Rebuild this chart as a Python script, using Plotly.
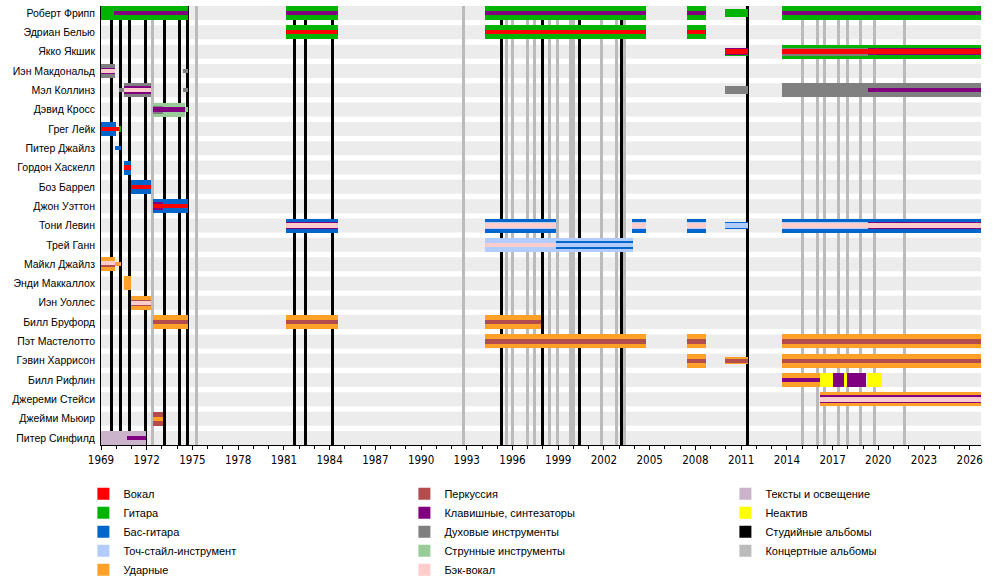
import plotly.graph_objects as go

NOW = 2026.74  # right end of the timeline

members = ["Роберт Фрипп", "Эдриан Белью", "Якко Якшик", "Иэн Макдональд", "Мэл Коллинз",
           "Дэвид Кросс", "Грег Лейк", "Питер Джайлз", "Гордон Хаскелл", "Боз Баррел",
           "Джон Уэттон", "Тони Левин", "Трей Ганн", "Майкл Джайлз", "Энди Маккаллох",
           "Иэн Уоллес", "Билл Бруфорд", "Пэт Мастелотто", "Гэвин Харрисон", "Билл Рифлин",
           "Джереми Стейси", "Джейми Мьюир", "Питер Синфилд"]

role_names = {
    "vocals": "Вокал", "guitar": "Гитара", "bass": "Бас-гитара",
    "stick": "Точ-стайл-инструмент", "drums": "Ударные", "perc": "Перкуссия",
    "keys": "Клавишные, синтезаторы", "wind": "Духовые инструменты",
    "strings": "Струнные инструменты", "bvocals": "Бэк-вокал",
    "lyrics": "Тексты и освещение", "inactive": "Неактив",
    "studio": "Студийные альбомы", "live": "Концертные альбомы",
}

# (member, role, from, till) - main bars
full_spans = [
    ("Роберт Фрипп", "guitar", 1969.0, 1974.74), ("Роберт Фрипп", "guitar", 1981.16, 1984.57),
    ("Роберт Фрипп", "guitar", 1994.21, 2004.77), ("Роберт Фрипп", "guitar", 2007.46, 2008.70),
    ("Роберт Фрипп", "guitar", 2013.69, NOW),
    ("Эдриан Белью", "guitar", 1981.16, 1984.57), ("Эдриан Белью", "guitar", 1994.21, 2004.77),
    ("Эдриан Белью", "guitar", 2007.46, 2008.70),
    ("Якко Якшик", "guitar", 2013.69, NOW),
    ("Иэн Макдональд", "wind", 1969.0, 1969.94),
    ("Мэл Коллинз", "wind", 1970.53, 1972.30), ("Мэл Коллинз", "wind", 2013.69, NOW),
    ("Дэвид Кросс", "strings", 1972.43, 1974.53),
    ("Грег Лейк", "bass", 1969.0, 1970.0),
    ("Гордон Хаскелл", "bass", 1970.53, 1970.99),
    ("Боз Баррел", "bass", 1970.99, 1972.30),
    ("Джон Уэттон", "bass", 1972.43, 1974.74),
    ("Тони Левин", "bass", 1981.16, 1984.57), ("Тони Левин", "bass", 1994.21, 1998.88),
    ("Тони Левин", "bass", 2003.85, 2004.77), ("Тони Левин", "bass", 2007.46, 2008.70),
    ("Тони Левин", "bass", 2013.69, NOW),
    ("Трей Ганн", "stick", 1994.21, 2003.92),
    ("Майкл Джайлз", "drums", 1969.0, 1969.94),
    ("Энди Маккаллох", "drums", 1970.53, 1970.99),
    ("Иэн Уоллес", "drums", 1970.99, 1972.30),
    ("Билл Бруфорд", "drums", 1972.43, 1974.74), ("Билл Бруфорд", "drums", 1981.16, 1984.57),
    ("Билл Бруфорд", "drums", 1994.21, 1997.88),
    ("Пэт Мастелотто", "drums", 1994.21, 2004.77), ("Пэт Мастелотто", "drums", 2007.46, 2008.70),
    ("Пэт Мастелотто", "drums", 2013.69, NOW),
    ("Гэвин Харрисон", "drums", 2007.46, 2008.70), ("Гэвин Харрисон", "drums", 2013.69, NOW),
    ("Билл Рифлин", "drums", 2013.69, 2016.19), ("Билл Рифлин", "inactive", 2016.19, 2017.04),
    ("Билл Рифлин", "keys", 2017.04, 2017.76), ("Билл Рифлин", "inactive", 2017.76, 2017.96),
    ("Билл Рифлин", "keys", 2017.96, 2019.20), ("Билл Рифлин", "inactive", 2019.27, 2020.23),
    ("Джереми Стейси", "drums", 2016.19, NOW),
    ("Джейми Мьюир", "perc", 1972.43, 1973.09),
    ("Питер Синфилд", "lyrics", 1969.0, 1971.97),
]

wide_spans = [
    ("Роберт Фрипп", "guitar", 2009.95, 2011.46),
    ("Якко Якшик", "guitar", 2009.95, 2011.46), ("Якко Якшик", "wind", 2013.69, 2019.33),
    ("Мэл Коллинз", "wind", 2009.95, 2011.46), ("Мэл Коллинз", "keys", 1970.53, 1972.30),
    ("Дэвид Кросс", "wind", 1972.43, 1973.09),
    ("Джон Уэттон", "keys", 1972.43, 1973.09),
    ("Трей Ганн", "bass", 1998.85, 2003.92),
    ("Джереми Стейси", "keys", 2016.19, NOW),
]

mid_spans = [
    ("Якко Якшик", "keys", 2009.95, 2011.46), ("Якко Якшик", "keys", 2019.33, NOW),
    ("Иэн Макдональд", "keys", 1969.0, 1969.94),
    ("Грег Лейк", "guitar", 1970.20, 1970.33),
    ("Тони Левин", "keys", 1981.16, 1984.57), ("Тони Левин", "stick", 1994.21, 1998.88),
    ("Тони Левин", "stick", 2003.85, 2004.77), ("Тони Левин", "stick", 2007.46, 2008.70),
    ("Тони Левин", "bass", 2009.95, 2011.46), ("Тони Левин", "stick", 2013.69, 2019.33),
    ("Тони Левин", "keys", 2019.33, NOW),
    ("Майкл Джайлз", "perc", 1969.0, 1969.94),
    ("Иэн Уоллес", "perc", 1970.99, 1972.30),
    ("Гэвин Харрисон", "drums", 2009.95, 2011.46),
]

narrow_spans = [
    ("Роберт Фрипп", "keys", 1969.87, 1974.74), ("Роберт Фрипп", "keys", 1981.16, 1984.57),
    ("Роберт Фрипп", "keys", 1994.21, 2004.77), ("Роберт Фрипп", "keys", 2007.46, 2008.70),
    ("Роберт Фрипп", "keys", 2013.69, NOW),
    ("Эдриан Белью", "vocals", 1981.16, 1984.57), ("Эдриан Белью", "vocals", 1994.21, 2004.77),
    ("Эдриан Белью", "vocals", 2007.46, 2008.70),
    ("Якко Якшик", "vocals", 2009.95, 2011.46), ("Якко Якшик", "vocals", 2013.69, NOW),
    ("Иэн Макдональд", "bvocals", 1969.0, 1969.94), ("Иэн Макдональд", "wind", 1974.40, 1974.73),
    ("Мэл Коллинз", "wind", 1970.20, 1970.53), ("Мэл Коллинз", "bvocals", 1970.53, 1972.30),
    ("Мэл Коллинз", "wind", 1974.40, 1974.73), ("Мэл Коллинз", "keys", 2019.33, NOW),
    ("Дэвид Кросс", "keys", 1972.43, 1974.53), ("Дэвид Кросс", "strings", 1974.53, 1974.74),
    ("Грег Лейк", "vocals", 1969.0, 1970.20),
    ("Питер Джайлз", "bass", 1969.94, 1970.33),
    ("Гордон Хаскелл", "vocals", 1970.53, 1970.99),
    ("Боз Баррел", "vocals", 1970.99, 1972.30),
    ("Джон Уэттон", "vocals", 1972.43, 1974.74),
    ("Тони Левин", "bvocals", 1981.16, 1984.57), ("Тони Левин", "bvocals", 1994.21, 1998.88),
    ("Тони Левин", "bvocals", 2003.85, 2004.77), ("Тони Левин", "bvocals", 2007.46, 2008.70),
    ("Тони Левин", "stick", 2009.95, 2011.46), ("Тони Левин", "bvocals", 2013.69, NOW),
    ("Трей Ганн", "bvocals", 1994.21, 1998.85), ("Трей Ганн", "stick", 1998.85, 2003.92),
    ("Майкл Джайлз", "drums", 1969.94, 1970.31),
    ("Иэн Уоллес", "bvocals", 1970.99, 1972.30),
    ("Билл Бруфорд", "perc", 1972.43, 1974.74), ("Билл Бруфорд", "perc", 1981.16, 1984.57),
    ("Билл Бруфорд", "perc", 1994.21, 1997.88),
    ("Пэт Мастелотто", "perc", 1994.21, 2004.77), ("Пэт Мастелотто", "perc", 2007.46, 2008.70),
    ("Пэт Мастелотто", "perc", 2013.69, NOW),
    ("Гэвин Харрисон", "perc", 2007.46, 2008.70), ("Гэвин Харрисон", "perc", 2009.95, 2011.46),
    ("Гэвин Харрисон", "perc", 2013.69, NOW),
    ("Билл Рифлин", "keys", 2013.69, 2016.19),
    ("Джереми Стейси", "bvocals", 2016.19, NOW),
    ("Джейми Мьюир", "drums", 1972.43, 1973.09),
    ("Питер Синфилд", "keys", 1970.70, 1971.97),
]

raised_spans = [
    ("Майкл Джайлз", "bvocals", 1969.0, 1969.94),
]

studio_albums = [1969.68, 1970.27, 1970.86, 1971.91, 1973.17, 1974.16, 1974.66,
                 1981.70, 1982.42, 1984.19, 1995.28, 1997.97, 2000.39, 2003.15, 2011.41]
live_albums = [1972.38, 1975.27, 1992.78, 1995.59, 1996.00, 1996.98, 1997.42, 1998.43,
               1998.95, 1999.82, 2000.01, 2001.84, 2002.82, 2003.35, 2015.02, 2016.00,
               2016.46, 2017.38, 2017.97, 2018.83, 2019.75, 2021.71]

# ---- styles ----
colors = {
    "vocals": "#ff0000", "guitar": "#00b300", "bass": "#0066cc", "stick": "#b3ccff",
    "drums": "#ffa028", "perc": "#b34d4d", "keys": "#800080", "wind": "#808080",
    "strings": "#99cc99", "bvocals": "#ffcccc", "lyrics": "#ccb3cc", "inactive": "#ffff00",
    "studio": "#000000", "live": "#bbbbbb",
}
legend_order = ["vocals", "perc", "lyrics", "guitar", "keys", "inactive", "bass", "wind",
                "studio", "stick", "strings", "live", "drums", "bvocals"]

PITCH = 19.32   # px between rows
BAND = 14       # px, row background / main bar
# layer: (spans, thickness px, shift px)
layers = [(full_spans, 14, 0), (wide_spans, 8, 0), (mid_spans, 6.5, 0),
          (narrow_spans, 4.3, 0), (raised_spans, 4, -3)]
LINE_W = 0.2    # years
TOP, H, W, L, R = 6, 585, 1000, 101, 19
pad = BAND / 2 / PITCH
plot_h = PITCH * (len(members) - 1) + BAND

fig = go.Figure()

# album lines on the base axes (drawn under the member bars)
for key, xs in (("studio", studio_albums), ("live", live_albums)):
    fig.add_trace(go.Bar(x=xs, y=[1] * len(xs), base=0, width=LINE_W,
                         marker=dict(color=colors[key], line=dict(width=0)),
                         name=role_names[key], legendrank=legend_order.index(key) + 1,
                         xaxis="x", yaxis="y", hoverinfo="skip"))

shown = set()
for spans, thick, shift in layers:
    for role in colors:
        segs = [s for s in spans if s[1] == role]
        if not segs:
            continue
        kw = {}
        if shift:
            kw["offset"] = shift / PITCH
        fig.add_trace(go.Bar(
            orientation="h",
            y=[s[0] for s in segs], x=[s[3] - s[2] for s in segs], base=[s[2] for s in segs],
            width=thick / PITCH, marker=dict(color=colors[role], line=dict(width=0)),
            name=role_names[role], showlegend=role not in shown,
            legendrank=legend_order.index(role) + 1,
            xaxis="x", yaxis="y2", hoverinfo="skip", **kw))
        shown.add(role)

# grey row bands
for i, m in enumerate(members):
    fig.add_shape(type="rect", xref="x", yref="y2", x0=1969, x1=NOW,
                  y0=i - pad, y1=i + pad, fillcolor="#ececec", line=dict(width=0),
                  layer="below")

fig.update_layout(
    width=W, height=H,
    margin=dict(l=L, r=R, t=TOP, b=H - TOP - plot_h, autoexpand=False),
    barmode="overlay", bargap=0,
    plot_bgcolor="white", paper_bgcolor="white",
    font=dict(family="Liberation Sans, Arial, sans-serif", size=11, color="black"),
    xaxis=dict(range=[1969, NOW], tick0=1969, dtick=3, ticks="outside", ticklen=4,
               tickcolor="black", showline=True, linecolor="black", showgrid=False,
               zeroline=False, automargin=False,
               tickfont=dict(family="Liberation Sans Narrow, DejaVu Sans Condensed, Liberation Sans",
                             size=11.5),
               minor=dict(dtick=1, tick0=1969, ticks="outside", ticklen=3, tickcolor="black",
                          showgrid=False)),
    yaxis=dict(range=[0, 1], showticklabels=False, showgrid=False, zeroline=False,
               showline=True, linecolor="black", fixedrange=True, automargin=False),
    yaxis2=dict(overlaying="y", side="left", type="category", categoryorder="array",
                categoryarray=members, range=[len(members) - 1 + pad, -pad],
                showgrid=False, zeroline=False, ticks="", ticklabelstandoff=5,
                automargin=False, tickfont=dict(size=10.5)),
    legend=dict(orientation="h", x=-0.02, xanchor="left", y=-0.078, yanchor="top",
                entrywidth=276, entrywidthmode="pixels", traceorder="normal",
                font=dict(size=11)),
)

# drop the browser's default page margin so the figure sits at the window corner
fig.write_html("out.html", config={"displayModeBar": False},
               post_script="document.body.style.margin='0';")
